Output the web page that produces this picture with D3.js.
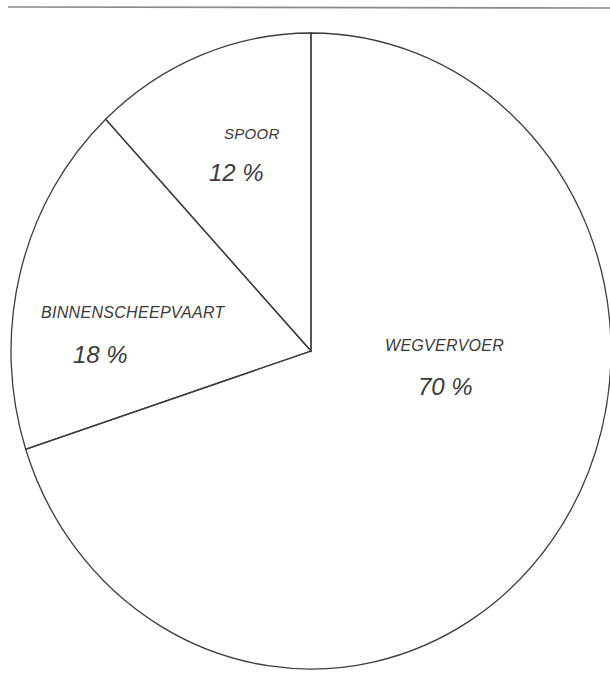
<!DOCTYPE html>
<html>
<head>
<meta charset="utf-8">
<script src="https://cdn.jsdelivr.net/npm/d3@7"></script>
<style>
  body { margin: 0; background: #fff; }
  text { font-family: "Liberation Sans", Arial, sans-serif; font-style: italic; fill: #3a3a3a; }
</style>
</head>
<body>
<div class="container"></div>
<script>
const wd = 610
const ht = 684

// shares (percent), clockwise from 12 o'clock
const categories = ["WEGVERVOER", "BINNENSCHEEPVAART", "SPOOR"]
const shares = [70, 18, 12]
const shareLabels = ["70 %", "18 %", "12 %"]

const cx = 311
const cy = 351
const rx = 300
const ry = 318   // scan is a bit stretched vertically

// label spots, offset from the centre (name, then percent)
const labelPos = {
  "WEGVERVOER":        { name: [74, 0],     pct: [107, 44] },
  "BINNENSCHEEPVAART": { name: [-270, -33], pct: [-238, 12] },
  "SPOOR":             { name: [-87, -212], pct: [-102, -170] }
}

const dataset = categories.map((c, i) => {
  return { cat: c, value: shares[i], label: shareLabels[i] }
})

const svgC = d3.select(".container").append("svg")
  .attr("width", wd)
  .attr("height", ht)

// page edge line of the scan
svgC.append("line")
  .attr("x1", 8).attr("x2", wd)
  .attr("y1", 7).attr("y2", 8)
  .style("stroke", "#8a8a8a")
  .style("stroke-width", "1.6px")

const pie = d3.pie()
  .sort(null)
  .value((d) => { return d.value })

const arcFunc = d3.arc()
  .innerRadius(0)
  .outerRadius(rx)

const pieGroup = svgC.append("g")
  .attr("transform", "translate(" + cx + "," + cy + ") scale(1," + (ry / rx) + ")")

pieGroup.selectAll("path")
  .data(pie(dataset))
  .enter()
  .append("path")
  .attr("d", arcFunc)
  .attr("fill", "none")
  .style("stroke", "#3c3c3c")
  .style("stroke-width", "1.3px")
  .attr("vector-effect", "non-scaling-stroke")

const labels = svgC.append("g")
  .attr("transform", "translate(" + cx + "," + cy + ")")

dataset.forEach((d) => {
  let p = labelPos[d.cat]
  labels.append("text")
    .attr("x", p.name[0])
    .attr("y", p.name[1])
    .style("font-size", d.cat == "SPOOR" ? "15px" : "16px")
    .style("letter-spacing", "0.3px")
    .text(d.cat)
  labels.append("text")
    .attr("x", p.pct[0])
    .attr("y", p.pct[1])
    .style("font-size", "24px")
    .text(d.label)
})
</script>
</body>
</html>
